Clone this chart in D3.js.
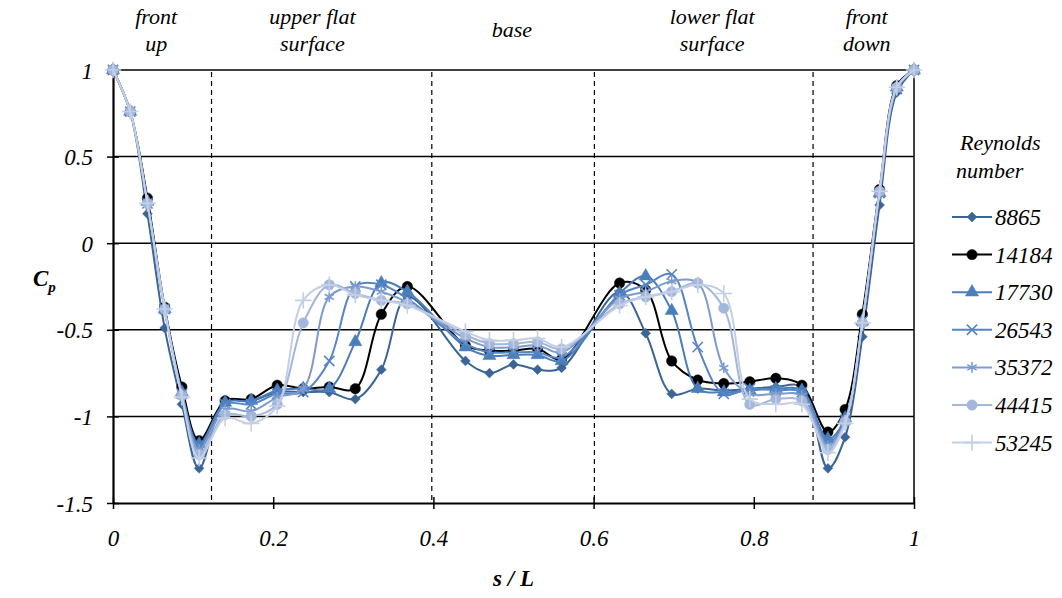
<!DOCTYPE html>
<html lang="en">
<head>
  <meta charset="UTF-8">
  <title>Cp vs s/L</title>
  <style>
    body { margin: 0; background: #fff; }
  </style>
</head>
<body>
  <div id="chart"></div>
  <script src="https://cdn.jsdelivr.net/npm/d3@7/dist/d3.min.js"></script>
  <script>
    // positions along the body, s/L
    const sPos = [0, 0.0215, 0.043, 0.0645, 0.086, 0.1075,
      0.140, 0.1725, 0.205, 0.2375, 0.270, 0.3025, 0.335, 0.3675,
      0.44, 0.47, 0.50, 0.53, 0.56,
      0.6325, 0.665, 0.6975, 0.730, 0.7625, 0.795, 0.8275, 0.860,
      0.8925, 0.914, 0.9355, 0.957, 0.9785, 1];

    const cp8865 = [1, 0.76, 0.17, -0.49, -0.93, -1.30,
      -0.91, -0.91, -0.86, -0.86, -0.86, -0.90, -0.73, -0.31,
      -0.68, -0.75, -0.70, -0.73, -0.72,
      -0.28, -0.52, -0.87, -0.84, -0.85, -0.84, -0.83, -0.83,
      -1.30, -1.12, -0.54, 0.22, 0.87, 1];
    const cp14184 = [1, 0.76, 0.26, -0.37, -0.83, -1.14,
      -0.91, -0.90, -0.82, -0.84, -0.83, -0.84, -0.41, -0.25,
      -0.59, -0.62, -0.62, -0.61, -0.67,
      -0.23, -0.27, -0.68, -0.79, -0.81, -0.80, -0.78, -0.82,
      -1.09, -0.96, -0.41, 0.31, 0.91, 1];
    const cp17730 = [1, 0.76, 0.24, -0.38, -0.86, -1.16,
      -0.92, -0.91, -0.85, -0.84, -0.84, -0.57, -0.23, -0.28,
      -0.60, -0.65, -0.645, -0.645, -0.68,
      -0.29, -0.19, -0.39, -0.84, -0.86, -0.85, -0.84, -0.85,
      -1.13, -1.01, -0.45, 0.29, 0.90, 1];
    const cp26543 = [1, 0.76, 0.23, -0.38, -0.87, -1.17,
      -0.93, -0.93, -0.87, -0.86, -0.68, -0.25, -0.24, -0.32,
      -0.58, -0.63, -0.63, -0.63, -0.66,
      -0.30, -0.24, -0.18, -0.60, -0.87, -0.84, -0.85, -0.86,
      -1.15, -1.02, -0.45, 0.29, 0.89, 1];
    const cp35372 = [1, 0.76, 0.23, -0.38, -0.87, -1.19,
      -0.96, -0.97, -0.89, -0.84, -0.31, -0.25, -0.28, -0.34,
      -0.55, -0.60, -0.60, -0.59, -0.63,
      -0.32, -0.28, -0.22, -0.23, -0.72, -0.87, -0.87, -0.88,
      -1.17, -1.03, -0.46, 0.29, 0.89, 1];
    const cp44415 = [1, 0.76, 0.23, -0.38, -0.88, -1.22,
      -0.99, -1.00, -0.93, -0.46, -0.24, -0.29, -0.33, -0.35,
      -0.53, -0.58, -0.58, -0.57, -0.61,
      -0.35, -0.31, -0.28, -0.23, -0.375, -0.93, -0.90, -0.91,
      -1.19, -1.03, -0.46, 0.30, 0.90, 1];
    const cp53245 = [1, 0.76, 0.23, -0.38, -0.89, -1.24,
      -1.01, -1.04, -0.94, -0.33, -0.24, -0.30, -0.33, -0.36,
      -0.51, -0.56, -0.56, -0.55, -0.60,
      -0.36, -0.31, -0.28, -0.24, -0.29, -0.90, -0.93, -0.93,
      -1.21, -1.04, -0.46, 0.30, 0.90, 1];

    const reynolds = ['8865', '14184', '17730', '26543', '35372', '44415', '53245'];
    const cpValues = [cp8865, cp14184, cp17730, cp26543, cp35372, cp44415, cp53245];
    const colors = ['#3a6597', '#000000', '#4a7ebb', '#5585c5', '#7d9bcf', '#a3b6db', '#c4cfe6'];
    const markers = ['diamond', 'circle', 'triangle', 'times', 'asterisk', 'circle', 'plus'];

    const xTicks = [0, 0.2, 0.4, 0.6, 0.8, 1];
    const yTicks = [-1.5, -1, -0.5, 0, 0.5, 1];
    const yGrid = [-1, -0.5, 0, 0.5, 1];

    // region boundaries and names
    const dividers = [0.123, 0.398, 0.601, 0.874];
    const regions = [
      { s: 0.054, lines: ['front', 'up'] },
      { s: 0.249, lines: ['upper flat', 'surface'] },
      { s: 0.498, lines: ['base'] },
      { s: 0.748, lines: ['lower flat', 'surface'] },
      { s: 0.941, lines: ['front', 'down'] }
    ];

    const FONT = 'Liberation Serif';

    const width = 1062, height = 598;
    const margin = { top: 70, right: 148, bottom: 95, left: 113 };
    const iw = width - margin.left - margin.right;
    const ih = height - margin.top - margin.bottom;

    const svg = d3.select('#chart').append('svg')
      .attr('width', width)
      .attr('height', height);

    const g = svg.append('g')
      .attr('transform', `translate(${margin.left},${margin.top})`);

    const x = d3.scaleLinear().domain([0, 1]).range([0, iw]);
    const y = d3.scaleLinear().domain([-1.5, 1]).range([ih, 0]);

    // horizontal grid
    g.append('g').selectAll('line')
      .data(yGrid)
      .join('line')
      .attr('x1', 0).attr('x2', iw)
      .attr('y1', d => y(d)).attr('y2', d => y(d))
      .attr('stroke', '#000')
      .attr('stroke-width', 1.5);

    // right border
    g.append('line')
      .attr('x1', iw).attr('x2', iw)
      .attr('y1', 0).attr('y2', ih)
      .attr('stroke', '#000').attr('stroke-width', 1.5);

    // region dividers
    g.append('g').selectAll('line')
      .data(dividers)
      .join('line')
      .attr('x1', d => x(d)).attr('x2', d => x(d))
      .attr('y1', y(1) + 2).attr('y2', ih)
      .attr('stroke', '#000')
      .attr('stroke-width', 1.2)
      .attr('stroke-dasharray', '5,4');

    // axes
    const xAxis = g.append('g')
      .attr('transform', `translate(0,${ih})`)
      .call(d3.axisBottom(x).tickValues(xTicks).tickSize(0).tickPadding(0).tickFormat(d3.format('')));
    xAxis.select('.domain').attr('stroke-width', 2.2);
    xAxis.selectAll('.tick line').attr('y1', -6).attr('y2', 6).attr('stroke-width', 1.5);
    xAxis.selectAll('.tick text')
      .attr('y', 43)
      .attr('dy', null);

    const yAxis = g.append('g')
      .call(d3.axisLeft(y).tickValues(yTicks).tickSize(0).tickPadding(0).tickFormat(d3.format('')));
    yAxis.select('.domain').attr('stroke-width', 2.2);
    yAxis.selectAll('.tick line').attr('x1', -6).attr('x2', 6).attr('stroke-width', 1.5);
    yAxis.selectAll('.tick text')
      .attr('x', -20)
      .attr('dy', '0.35em');
    svg.selectAll('.tick text')
      .attr('fill', '#000')
      .attr('font-size', 23)
      .text(d => String(d));
    xAxis.attr('font-family', FONT).attr('font-size', 23);
    yAxis.attr('font-family', FONT).attr('font-size', 23);

    // axis titles
    svg.append('text')
      .attr('x', margin.left + x(0.5))
      .attr('y', height - 12)
      .attr('text-anchor', 'middle')
      .attr('font-size', 23)
      .attr('font-weight', 'bold')
      .text('s / L');

    const cpLabel = svg.append('text')
      .attr('x', 33)
      .attr('y', margin.top + y(-0.2) + 8)
      .attr('font-size', 23)
      .attr('font-weight', 'bold');
    cpLabel.append('tspan').text('C');
    cpLabel.append('tspan').attr('dy', 6).attr('font-size', 15).text('p');

    // region names above the plot
    regions.forEach(r => {
      const t = svg.append('text')
        .attr('x', margin.left + x(r.s))
        .attr('text-anchor', 'middle')
        .attr('font-size', 22);
      if (r.lines.length === 1) {
        t.attr('y', 37).text(r.lines[0]);
      } else {
        r.lines.forEach((l, i) => {
          t.append('tspan')
            .attr('x', margin.left + x(r.s))
            .attr('y', 24 + i * 27)
            .text(l);
        });
      }
    });

    // series
    const line = d3.line()
      .x((d, i) => x(sPos[i]))
      .y(d => y(d))
      .curve(d3.curveCatmullRom.alpha(0.5));

    const symbolTypes = {
      diamond: { type: d3.symbolSquare, size: 48, fill: true, rotate: 45 },
      circle: { type: d3.symbolCircle, size: 85, fill: true },
      triangle: { type: d3.symbolTriangle, size: 75, fill: true },
      times: { type: d3.symbolTimes, size: 70, fill: false },
      asterisk: { type: d3.symbolAsterisk, size: 80, fill: false },
      plus: { type: d3.symbolPlus, size: 90, fill: false }
    };

    function drawMarker(sel, kind, color) {
      const m = symbolTypes[kind];
      return sel.append('path')
        .attr('d', d3.symbol().type(m.type).size(m.size)())
        .attr('transform', m.rotate ? `rotate(${m.rotate})` : null)
        .attr('fill', m.fill ? color : 'none')
        .attr('stroke', color)
        .attr('stroke-width', m.fill ? 0.5 : 1.6);
    }

    cpValues.forEach((vals, k) => {
      const sg = g.append('g').attr('class', 'series');
      sg.append('path')
        .datum(vals)
        .attr('d', line)
        .attr('fill', 'none')
        .attr('stroke', colors[k])
        .attr('stroke-width', 2);
      sg.selectAll('g.pt')
        .data(vals)
        .join('g')
        .attr('class', 'pt')
        .attr('transform', (d, i) => `translate(${x(sPos[i])},${y(d)})`)
        .each(function () { drawMarker(d3.select(this), markers[k], colors[k]); });
    });

    // legend
    const lg = svg.append('g').attr('transform', 'translate(952,0)');
    lg.append('text').attr('x', 8).attr('y', 150).attr('font-size', 22).text('Reynolds');
    lg.append('text').attr('x', 4).attr('y', 178).attr('font-size', 22).text('number');
    reynolds.forEach((r, k) => {
      const yy = 217 + k * 37.6;
      lg.append('line')
        .attr('x1', 0).attr('x2', 40)
        .attr('y1', yy).attr('y2', yy)
        .attr('stroke', colors[k]).attr('stroke-width', 2);
      const mg = lg.append('g').attr('transform', `translate(20,${yy})`);
      drawMarker(mg, markers[k], colors[k]);
      lg.append('text')
        .attr('x', 43).attr('y', yy)
        .attr('dy', '0.35em')
        .attr('font-size', 23)
        .text(r);
    });

    // all text italic serif
    svg.selectAll('text')
      .attr('font-family', FONT)
      .attr('font-style', 'italic')
      .attr('fill', '#000');
  </script>
</body>
</html>
